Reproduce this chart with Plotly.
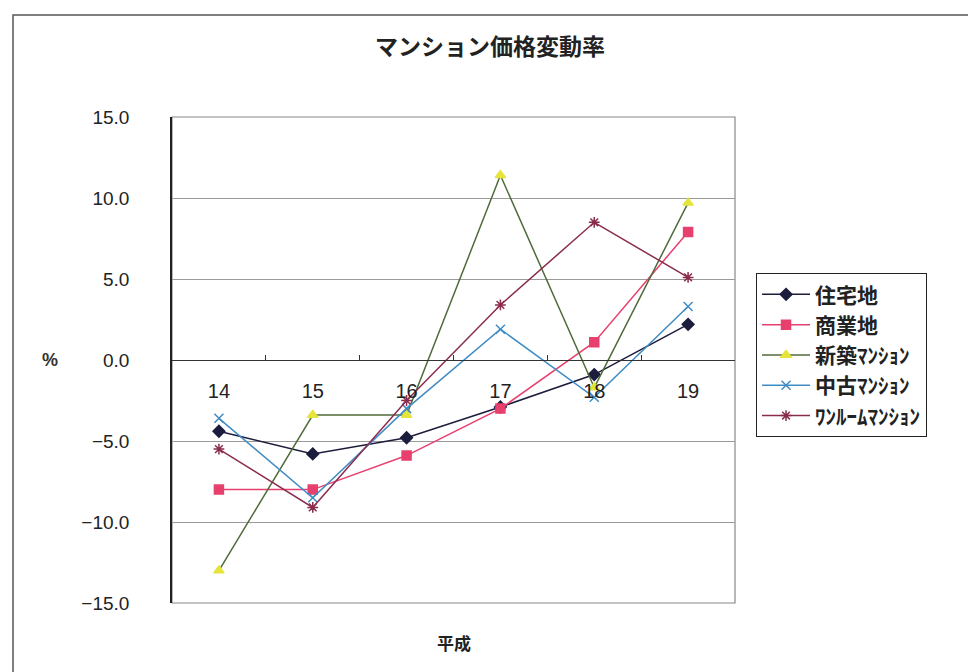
import plotly.graph_objects as go

categories = ["14", "15", "16", "17", "18", "19"]
series_names = ["住宅地", "商業地", "新築ﾏﾝｼｮﾝ", "中古ﾏﾝｼｮﾝ", "ﾜﾝﾙｰﾑﾏﾝｼｮﾝ"]
residential = [-4.4, -5.8, -4.8, -2.9, -0.9, 2.2]
commercial = [-8.0, -8.0, -5.9, -3.0, 1.1, 7.9]
new_condo = [-13.0, -3.4, -3.4, 11.4, -1.7, 9.7]
used_condo = [-3.6, -8.5, -3.0, 1.9, -2.3, 3.3]
one_room = [-5.5, -9.1, -2.5, 3.4, 8.5, 5.1]
y_ticks = [-15, -10, -5, 0, 5, 10, 15]

values = [residential, commercial, new_condo, used_condo, one_room]
line_colors = ["#1c1c3c", "#e8406e", "#4f6b3a", "#3f8cc4", "#8a2c4e"]
marker_colors = ["#1c1c3c", "#e8406e", "#e4e43a", "#3f8cc4", "#8a2c4e"]
symbols = ["diamond", "square", "triangle-up", "x-thin", "asterisk"]

fig = go.Figure()
for name, vals, lc, mc, sym in zip(series_names, values, line_colors, marker_colors, symbols):
    fig.add_trace(go.Scatter(
        x=categories, y=vals, name=name, mode="lines+markers",
        line=dict(color=lc, width=1.5),
        marker=dict(symbol=sym, size=9, color=mc,
                    line=dict(color=mc, width=1.5)),
    ))

font_family = "Liberation Sans, Noto Sans CJK JP, sans-serif"
cjk = "Noto Sans CJK JP, sans-serif"

fig.update_layout(
    width=968, height=664,
    margin=dict(l=164, r=241, t=109, b=69),
    paper_bgcolor="white", plot_bgcolor="white",
    showlegend=True,
    legend=dict(
        x=1.037, y=0.679, xanchor="left", yanchor="top",
        bordercolor="#222", borderwidth=1.2,
        font=dict(family=cjk, size=21, color="#222", weight=700),
        itemwidth=48, tracegroupgap=0,
    ),
    xaxis=dict(
        type="category", anchor="free", position=0.5,
        showline=True, linecolor="#333", linewidth=1.2,
        ticks="inside", ticklen=5, tickcolor="#333", tickson="boundaries",
        showgrid=False, ticklabelstandoff=13,
        tickfont=dict(family=font_family, size=20, color="#222"),
        range=[-0.5, 5.5],
    ),
    yaxis=dict(
        range=[-15, 15], tickvals=y_ticks, tickformat=".1f",
        showline=True, linecolor="#222", linewidth=1.5,
        showgrid=True, gridcolor="#9a9a9a", gridwidth=1,
        zeroline=False, ticks="", ticklabelstandoff=37,
        tickfont=dict(family=font_family, size=19, color="#222"),
    ),
    shapes=[
        dict(type="rect", xref="x domain", yref="y domain",
             x0=0, x1=1, y0=0, y1=1, line=dict(color="#888", width=1.2),
             layer="below"),
        dict(type="rect", xref="paper", yref="paper",
             x0=-0.2824, x1=1.46, y0=-0.16, y1=1.2099,
             line=dict(color="#555", width=1.5)),
    ],
    annotations=[
        dict(text="<b>マンション価格変動率</b>", xref="paper", yref="paper",
             x=0.565, y=1.148, xanchor="center", yanchor="middle", showarrow=False,
             font=dict(family=cjk, size=23, color="#222")),
        dict(text="<b>平成</b>", xref="paper", yref="paper",
             x=0.5, y=-0.0823, xanchor="center", yanchor="middle", showarrow=False,
             font=dict(family=cjk, size=17, color="#222")),
        dict(text="<b>%</b>", xref="paper", yref="paper",
             x=-0.2167, y=0.5, xanchor="center", yanchor="middle", showarrow=False,
             font=dict(family=font_family, size=18, color="#333")),
    ],
)

fig.write_html("out.html")
